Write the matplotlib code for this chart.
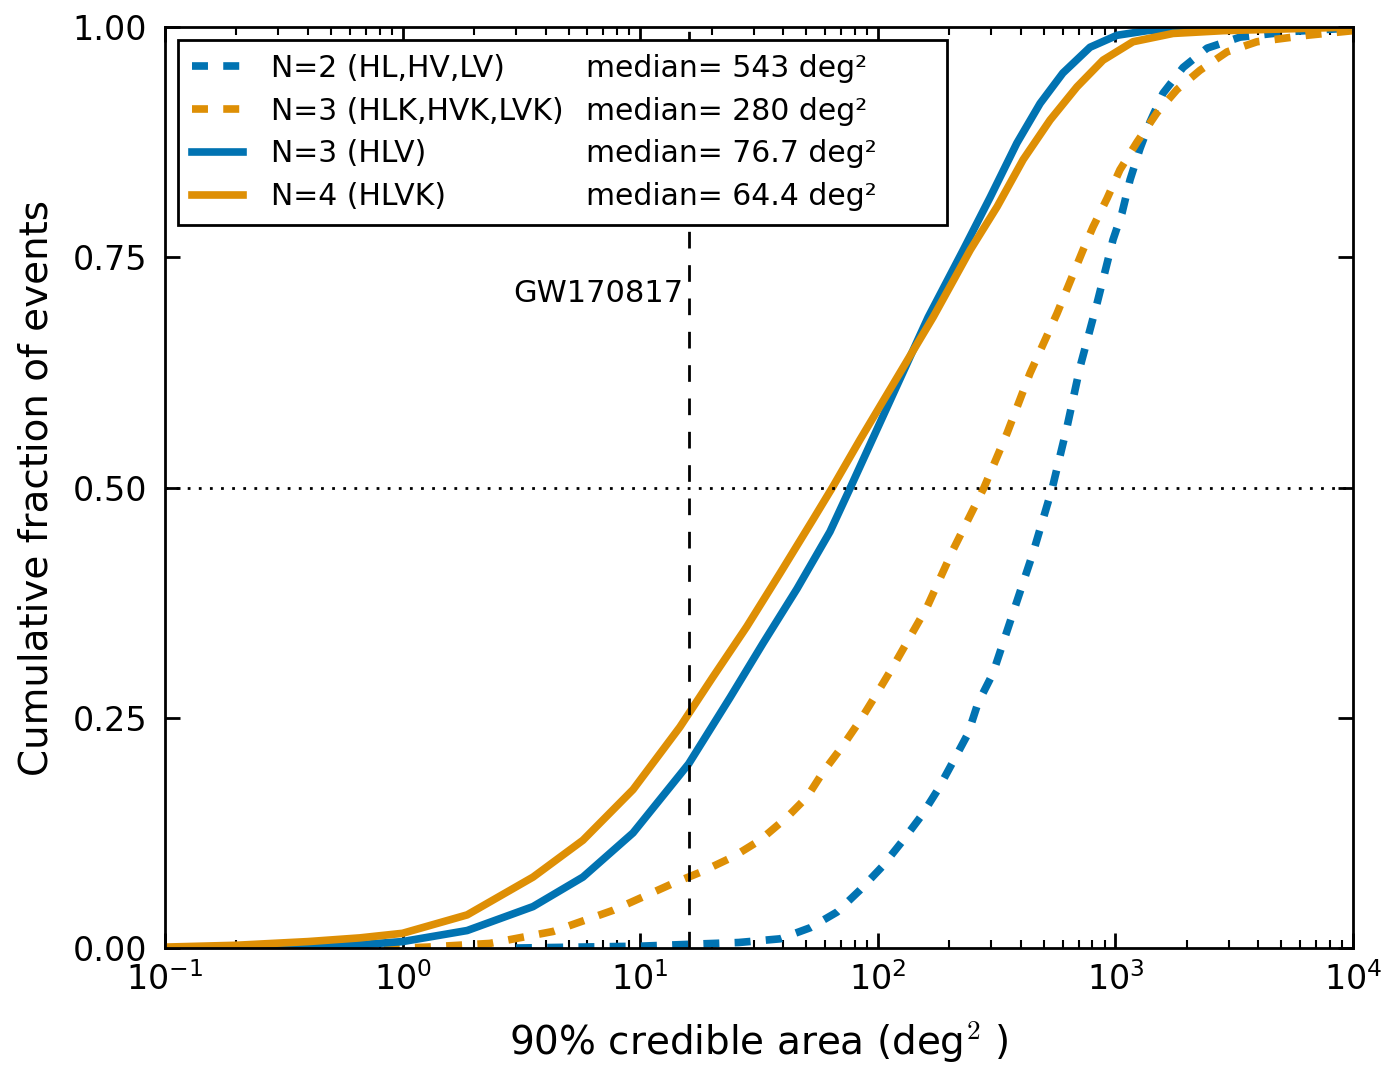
import matplotlib
matplotlib.use("Agg")
import matplotlib.pyplot as plt
from matplotlib.lines import Line2D
from matplotlib.ticker import FormatStrFormatter

# 90% credible area (deg^2) vs cumulative fraction
area_n2 = [3.0, 10, 16, 26, 38.8, 51.9, 67.3, 84.2, 104, 126, 153, 179, 207, 240, 264,
           305, 371, 450, 543, 626, 710, 837, 977, 1066, 1152, 1269, 1399, 1586, 1926,
           2430, 3345, 5433, 10000]
frac_n2 = [0.0, 0.002, 0.004, 0.006, 0.010, 0.022, 0.039, 0.063, 0.088, 0.115, 0.144,
           0.172, 0.202, 0.233, 0.266, 0.298, 0.364, 0.429, 0.50, 0.566, 0.631, 0.70,
           0.769, 0.798, 0.834, 0.868, 0.897, 0.928, 0.956, 0.977, 0.989, 0.995, 0.999]

area_n3k = [0.1, 1.0, 1.27, 2.33, 4.3, 7.7, 13.7, 18.2, 24.6, 31.9, 41.5, 50.4, 58.8,
            71.4, 85.7, 100, 118, 161, 207, 280, 350, 437, 568, 731, 805, 923, 1045,
            1233, 1497, 1816, 2270, 2951, 3945, 6402, 10000]
frac_n3k = [0.0, 0.0, 0.001, 0.005, 0.018, 0.041, 0.070, 0.083, 0.099, 0.117, 0.142,
            0.164, 0.191, 0.22, 0.25, 0.278, 0.309, 0.37, 0.432, 0.50, 0.559, 0.624,
            0.689, 0.758, 0.783, 0.814, 0.845, 0.875, 0.907, 0.932, 0.953, 0.973,
            0.984, 0.991, 0.996]

area_n3 = [0.1, 0.48, 1.0, 1.87, 3.54, 5.74, 9.33, 16, 23.9, 32.9, 45.7, 62.9, 76.7,
           163, 229, 297, 385, 482, 601, 782, 1016, 1359, 2000, 10000]
frac_n3 = [0.0, 0.001, 0.007, 0.019, 0.045, 0.077, 0.125, 0.200, 0.272, 0.331, 0.39,
           0.452, 0.50, 0.685, 0.758, 0.815, 0.874, 0.917, 0.95, 0.978, 0.991, 0.996,
           0.999, 1.0]

area_n4 = [0.1, 0.2, 0.4, 0.66, 1.0, 1.87, 3.54, 5.74, 9.33, 14.7, 20.2, 28.1, 38.8,
           53.3, 64.4, 84.2, 171, 245, 318, 409, 531, 689, 887, 1186, 1748, 2838, 10000]
frac_n4 = [0.001, 0.003, 0.007, 0.011, 0.016, 0.036, 0.077, 0.117, 0.172, 0.240, 0.294,
           0.349, 0.407, 0.465, 0.50, 0.552, 0.685, 0.758, 0.805, 0.856, 0.899, 0.935,
           0.964, 0.984, 0.993, 0.996, 1.0]

names = ['N=2 (HL,HV,LV)', 'N=3 (HLK,HVK,LVK)', 'N=3 (HLV)', 'N=4 (HLVK)']
medians = [543, 280, 76.7, 64.4]
gw170817_area = 16

blue = '#0173B2'
orange = '#DE8F05'

plt.rcParams['font.family'] = 'DejaVu Sans'
plt.rcParams['mathtext.fontset'] = 'cm'
plt.rcParams['lines.scale_dashes'] = False

fig = plt.figure(figsize=(13.92, 10.67), dpi=100)
ax = fig.add_axes([0.1185, 0.1115, 0.8535, 0.8632])

dash = (0, (11.5, 11))
lines = []
lines += ax.plot(area_n2, frac_n2, color=blue, lw=5.5, ls=dash)
lines += ax.plot(area_n3k, frac_n3k, color=orange, lw=5.5, ls=dash)
lines += ax.plot(area_n3, frac_n3, color=blue, lw=5.5)
lines += ax.plot(area_n4, frac_n4, color=orange, lw=5.5)

ax.axvline(gw170817_area, color='k', lw=2, ls=(0, (12, 12)))
ax.axhline(0.5, color='k', lw=2, ls=(0, (2, 6)))
ax.text(gw170817_area * 0.95, 0.711, 'GW170817', fontsize=22, ha='right', va='center')

ax.set_xscale('log')
ax.set_xlim(0.1, 1e4)
ax.set_ylim(0, 1)
ax.set_yticks([0, 0.25, 0.5, 0.75, 1.0])
ax.yaxis.set_major_formatter(FormatStrFormatter('%.2f'))
ax.tick_params(which='both', direction='in', top=True, right=True, labelsize=24)
ax.tick_params(which='major', length=11, width=2)
ax.tick_params(which='minor', length=5.5, width=1.5)
ax.tick_params(axis='x', pad=10)
ax.tick_params(axis='y', pad=13)
for sp in ax.spines.values():
    sp.set_linewidth(2)

ax.set_xlabel('90% credible area (deg$^2$ )', fontsize=28, labelpad=16)
ax.set_ylabel('Cumulative fraction of events', fontsize=28, labelpad=12)

# two-column legend: names with handles, medians with blank handles
blank = Line2D([], [], linestyle='none')
leg_labels = names + ['median= %g deg\u00b2      ' % m for m in medians]
leg = ax.legend(lines + [blank] * 4, leg_labels, loc='upper left', ncol=2,
                fontsize=21.5, handlelength=1.7, handletextpad=0.95,
                columnspacing=-1.9, labelspacing=0.46, borderpad=0.45,
                borderaxespad=0.45, fancybox=False, framealpha=1, edgecolor='k')
leg.get_frame().set_linewidth(2)

fig.savefig('out.png', dpi=100)
